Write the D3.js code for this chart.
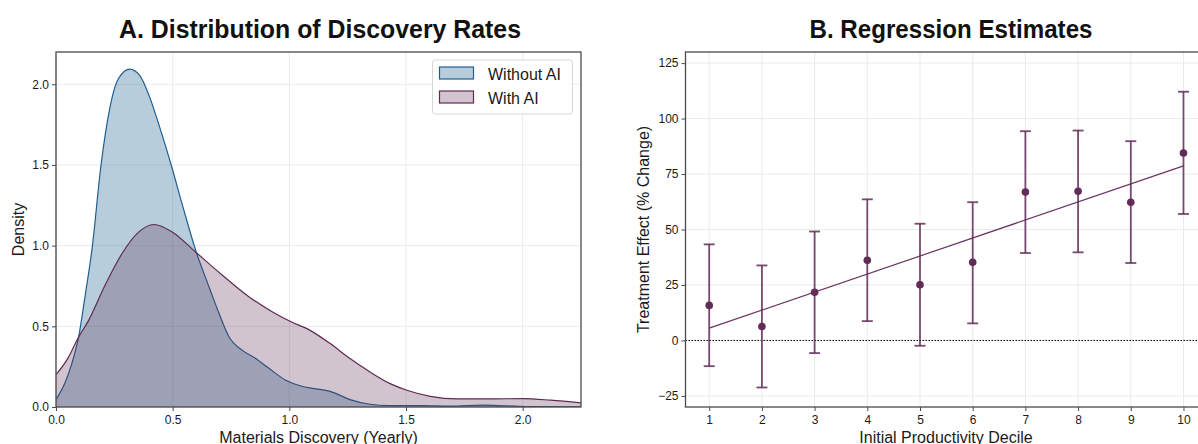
<!DOCTYPE html>
<html>
<head>
<meta charset="utf-8">
<script src="https://cdn.jsdelivr.net/npm/d3@7/dist/d3.min.js"></script>
<style>
  html, body { margin: 0; padding: 0; background: #fff; }
  svg { display: block; font-family: "Liberation Sans", Arial, Helvetica, sans-serif; }
</style>
</head>
<body>
<svg id="chart" width="1198" height="444"></svg>
<script>
// ---------- DATA ----------
// Panel A: kernel density curves (x = materials discovered per year, y = density)
const withoutAI_x = [0.00, 0.04, 0.068, 0.097, 0.126, 0.154, 0.193, 0.229, 0.264, 0.315, 0.358, 0.401, 0.444, 0.494, 0.544, 0.600, 0.656, 0.699, 0.742, 0.799, 0.856, 0.914, 0.985, 1.05, 1.10, 1.175, 1.26, 1.346, 1.432, 1.575, 1.69, 1.83, 1.93, 2.03, 2.25];
const withoutAI_y = [0.046, 0.155, 0.27, 0.434, 0.70, 0.975, 1.50, 1.84, 2.025, 2.094, 2.056, 1.922, 1.736, 1.498, 1.24, 0.965, 0.744, 0.579, 0.434, 0.351, 0.30, 0.238, 0.166, 0.13, 0.115, 0.097, 0.046, 0.017, 0.009, 0.008, 0.005, 0.012, 0.007, 0.002, 0.001];
const withAI_x = [0.00, 0.05, 0.097, 0.14, 0.21, 0.283, 0.355, 0.419, 0.498, 0.598, 0.713, 0.828, 0.928, 1.003, 1.089, 1.175, 1.26, 1.346, 1.432, 1.504, 1.604, 1.719, 1.862, 2.005, 2.12, 2.25];
const withAI_y = [0.20, 0.30, 0.434, 0.537, 0.754, 0.951, 1.085, 1.131, 1.085, 0.961, 0.817, 0.682, 0.589, 0.531, 0.475, 0.393, 0.30, 0.217, 0.145, 0.104, 0.066, 0.05, 0.05, 0.052, 0.042, 0.025];
const seriesNames = ["Without AI", "With AI"];
const densityTicksX = [0, 0.5, 1.0, 1.5, 2.0];
const densityTicksY = [0, 0.5, 1.0, 1.5, 2.0];

// Panel B: regression estimates by initial productivity decile
const deciles = [1, 2, 3, 4, 5, 6, 7, 8, 9, 10];
const estimates = [15.8, 6.3, 21.7, 36.1, 25.1, 35.2, 66.9, 67.2, 62.3, 84.5];
const ciLow = [-11.6, -21.2, -5.7, 8.7, -2.4, 7.7, 39.4, 39.7, 34.9, 57.0];
const ciHigh = [43.3, 33.8, 49.1, 63.6, 52.6, 62.3, 94.3, 94.6, 89.8, 112.1];
const effectTicksY = [-25, 0, 25, 50, 75, 100, 125];

// ---------- STYLE ----------
const blueLine = "#1f5f8f", purpleLine = "#5e2a53";
const blueFill = "#1f6391", purpleFill = "#5e2a53";
const gridColor = "#ebebeb", frameColor = "#4a4a4a";
const pointColor = "#612c57";

const svg = d3.select("#chart");

function frameAndGrid(g, x, y, xt, yt) {
  const [x0, x1] = x.range(), [y0, y1] = y.range();
  g.append("g").selectAll("line.gx").data(xt).join("line")
    .attr("x1", d => x(d)).attr("x2", d => x(d)).attr("y1", y0).attr("y2", y1)
    .attr("stroke", gridColor).attr("stroke-width", 1);
  g.append("g").selectAll("line.gy").data(yt).join("line")
    .attr("x1", x0).attr("x2", x1).attr("y1", d => y(d)).attr("y2", d => y(d))
    .attr("stroke", gridColor).attr("stroke-width", 1);
}
function drawAxes(g, x, y, xt, yt, xfmt, yfmt) {
  const [x0, x1] = x.range(), [y0, y1] = y.range();
  const ax = g.append("g").attr("transform", `translate(0,${y0})`)
    .call(d3.axisBottom(x).tickValues(xt).tickFormat(xfmt).tickSize(4).tickPadding(4));
  const ay = g.append("g").attr("transform", `translate(${x0},0)`)
    .call(d3.axisLeft(y).tickValues(yt).tickFormat(yfmt).tickSize(4).tickPadding(3));
  [ax, ay].forEach(a => {
    a.select(".domain").remove();
    a.selectAll(".tick line").attr("stroke", frameColor).attr("stroke-width", 1);
    a.selectAll(".tick text").attr("fill", "#1a1a1a").style("font-size", "12px")
      .style("font-family", '"Liberation Sans", Arial, sans-serif');
  });
  g.append("rect").attr("x", x0).attr("y", y1).attr("width", x1 - x0).attr("height", y0 - y1)
    .attr("fill", "none").attr("stroke", frameColor).attr("stroke-width", 1.3);
}

// ---------- PANEL A ----------
{
  const x = d3.scaleLinear().domain([0, 2.25]).range([56, 581]);
  const y = d3.scaleLinear().domain([0, 2.2]).range([407, 52]);
  const g = svg.append("g");
  const clipId = "clipA";
  svg.append("defs").append("clipPath").attr("id", clipId).append("rect")
    .attr("x", 56).attr("y", 52).attr("width", 525).attr("height", 355);
  frameAndGrid(g, x, y, densityTicksX, densityTicksY);

  const s1 = withoutAI_x.map((v, i) => [v, withoutAI_y[i]]);
  const s2 = withAI_x.map((v, i) => [v, withAI_y[i]]);
  const area = d3.area().x(d => x(d[0])).y0(y(0)).y1(d => y(d[1])).curve(d3.curveMonotoneX);
  const line = d3.line().x(d => x(d[0])).y(d => y(d[1])).curve(d3.curveMonotoneX);
  const pg = g.append("g").attr("clip-path", `url(#${clipId})`);
  pg.append("path").attr("d", area(s1)).attr("fill", blueFill).attr("fill-opacity", 0.32);
  pg.append("path").attr("d", line(s1)).attr("fill", "none").attr("stroke", blueLine).attr("stroke-width", 1.2);
  pg.append("path").attr("d", area(s2)).attr("fill", purpleFill).attr("fill-opacity", 0.28);
  pg.append("path").attr("d", line(s2)).attr("fill", "none").attr("stroke", purpleLine).attr("stroke-width", 1.2);

  drawAxes(g, x, y, densityTicksX, densityTicksY, d3.format(".1f"), d3.format(".1f"));

  // legend
  const lg = g.append("g");
  lg.append("rect").attr("x", 432.5).attr("y", 60).attr("width", 140).attr("height", 54)
    .attr("rx", 3).attr("fill", "#fff").attr("fill-opacity", 0.85).attr("stroke", "#d6d6d6").attr("stroke-width", 1);
  const cols = [[blueFill, blueLine, 0.32], [purpleFill, purpleLine, 0.28]];
  seriesNames.forEach((n, i) => {
    const yy = 67 + i * 24;
    lg.append("rect").attr("x", 439.5).attr("y", yy).attr("width", 34).attr("height", 12)
      .attr("fill", cols[i][0]).attr("fill-opacity", cols[i][2]).attr("stroke", cols[i][1]).attr("stroke-width", 1.2);
    lg.append("text").attr("x", 488).attr("y", yy + 12.5).text(n)
      .style("font-size", "16px").attr("fill", "#1a1a1a");
  });

  svg.append("text").attr("x", 320).attr("y", 38).attr("text-anchor", "middle")
    .style("font-size", "26px").style("font-weight", "bold").attr("fill", "#111")
    .attr("textLength", 402).attr("lengthAdjust", "spacingAndGlyphs")
    .text("A. Distribution of Discovery Rates");
  svg.append("text").attr("x", 318.5).attr("y", 442.5).attr("text-anchor", "middle")
    .style("font-size", "16px").attr("fill", "#1a1a1a").text("Materials Discovery (Yearly)");
  svg.append("text").attr("transform", "translate(24,229.5) rotate(-90)").attr("text-anchor", "middle")
    .style("font-size", "16px").attr("fill", "#1a1a1a").text("Density");
}

// ---------- PANEL B ----------
{
  const x = d3.scaleLinear().domain([0.55, 10.45]).range([685.5, 1207.2]);
  const y = d3.scaleLinear().domain([-30, 130]).range([407, 52]);
  const g = svg.append("g");
  frameAndGrid(g, x, y, deciles, effectTicksY);

  // zero reference line
  g.append("line").attr("x1", 685.5).attr("x2", 1207.2).attr("y1", y(0)).attr("y2", y(0))
    .attr("stroke", "#000").attr("stroke-width", 1).attr("stroke-dasharray", "1.5,1.5");

  // OLS fit through the point estimates
  const mx = d3.mean(deciles), my = d3.mean(estimates);
  const sxy = d3.sum(deciles, (d, i) => (d - mx) * (estimates[i] - my));
  const sxx = d3.sum(deciles, d => (d - mx) * (d - mx));
  const slope = sxy / sxx, icpt = my - slope * mx;
  const ends = d3.extent(deciles);
  g.append("line").attr("x1", x(ends[0])).attr("x2", x(ends[1]))
    .attr("y1", y(icpt + slope * ends[0])).attr("y2", y(icpt + slope * ends[1]))
    .attr("stroke", "#6a3562").attr("stroke-width", 1.2);

  const eb = g.append("g").attr("stroke", pointColor).attr("stroke-opacity", 0.85).attr("stroke-width", 1.8);
  deciles.forEach((d, i) => {
    eb.append("line").attr("x1", x(d)).attr("x2", x(d)).attr("y1", y(ciLow[i])).attr("y2", y(ciHigh[i]));
    eb.append("line").attr("x1", x(d) - 5.5).attr("x2", x(d) + 5.5).attr("y1", y(ciLow[i])).attr("y2", y(ciLow[i]));
    eb.append("line").attr("x1", x(d) - 5.5).attr("x2", x(d) + 5.5).attr("y1", y(ciHigh[i])).attr("y2", y(ciHigh[i]));
  });
  g.append("g").selectAll("circle").data(deciles).join("circle")
    .attr("cx", d => x(d)).attr("cy", (d, i) => y(estimates[i])).attr("r", 3.8).attr("fill", pointColor);

  drawAxes(g, x, y, deciles, effectTicksY, d3.format("d"), d => d < 0 ? "\u2212" + Math.abs(d) : String(d));

  svg.append("text").attr("x", 951).attr("y", 38).attr("text-anchor", "middle")
    .style("font-size", "26px").style("font-weight", "bold").attr("fill", "#111")
    .attr("textLength", 283).attr("lengthAdjust", "spacingAndGlyphs")
    .text("B. Regression Estimates");
  svg.append("text").attr("x", 946).attr("y", 442.5).attr("text-anchor", "middle")
    .style("font-size", "16px").attr("fill", "#1a1a1a").text("Initial Productivity Decile");
  svg.append("text").attr("transform", "translate(649,229.5) rotate(-90)").attr("text-anchor", "middle")
    .style("font-size", "16px").attr("fill", "#1a1a1a").text("Treatment Effect (% Change)");
}
</script>
</body>
</html>
